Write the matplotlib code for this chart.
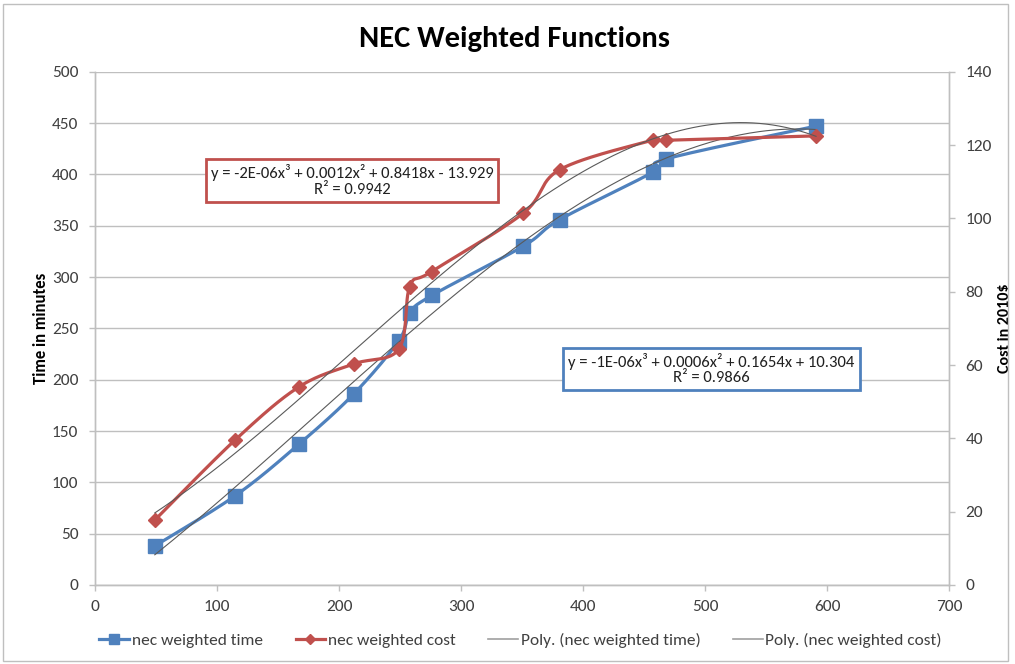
import numpy as np
import matplotlib
matplotlib.use('Agg')
import matplotlib.pyplot as plt
from matplotlib.patches import Rectangle

plt.rcParams['font.family'] = ['Carlito', 'Lato', 'DejaVu Sans']

# data
nec_x = [49, 115, 167, 212, 249, 258, 276, 351, 381, 457, 468, 591]
weighted_time = [38, 87, 137, 186, 238, 265, 282, 330, 356, 402, 415, 447]
weighted_cost = [17.7, 39.6, 54, 60.3, 64.3, 81.4, 85.5, 101.4, 113.3, 121.3, 121.3, 122.5]

time_eq = "y = -2E-06x\u00b3 + 0.0012x\u00b2 + 0.8418x - 13.929\nR\u00b2 = 0.9942"
cost_eq = "y = -1E-06x\u00b3 + 0.0006x\u00b2 + 0.1654x + 10.304\nR\u00b2 = 0.9866"

blue = '#4F81BD'
red = '#C0504D'
grid_col = '#BFBFBF'
trend_col = '#5A5A5A'


def smooth(xs, ys, n=30):
    # excel-like smoothed line (catmull-rom bezier between the points)
    p = np.column_stack([xs, ys]).astype(float)
    out = []
    for i in range(len(p) - 1):
        p0 = p[i - 1] if i > 0 else p[i]
        p1, p2 = p[i], p[i + 1]
        p3 = p[i + 2] if i + 2 < len(p) else p[i + 1]
        b1 = p1 + (p2 - p0) / 6
        b2 = p2 - (p3 - p1) / 6
        t = np.linspace(0, 1, n)[:, None]
        seg = (1 - t) ** 3 * p1 + 3 * (1 - t) ** 2 * t * b1 + 3 * (1 - t) * t ** 2 * b2 + t ** 3 * p2
        out.append(seg)
    out = np.vstack(out)
    return out[:, 0], out[:, 1]


fig = plt.figure(figsize=(10.15, 6.64), dpi=100)
ax = fig.add_axes([0.0936, 0.119, 0.8414, 0.773])
ax2 = ax.twinx()

# smoothed series
sx, sy = smooth(nec_x, weighted_time)
ax.plot(sx, sy, color=blue, lw=2.3, zorder=3)
ax.plot(nec_x, weighted_time, ls='none', marker='s', ms=9.5, color=blue, zorder=4)

cx, cy = smooth(nec_x, weighted_cost)
ax2.plot(cx, cy, color=red, lw=2.3, zorder=3)
ax2.plot(nec_x, weighted_cost, ls='none', marker='D', ms=7.5, color=red, zorder=4)

# polynomial trendlines (3rd order)
xx = np.linspace(min(nec_x), max(nec_x), 200)
ax.plot(xx, np.polyval(np.polyfit(nec_x, weighted_time, 3), xx), color=trend_col, lw=0.8, zorder=5)
ax2.plot(xx, np.polyval(np.polyfit(nec_x, weighted_cost, 3), xx), color=trend_col, lw=0.8, zorder=5)

ax.set_xlim(0, 700)
ax.set_ylim(0, 500)
ax2.set_ylim(0, 140)
ax.set_xticks(range(0, 701, 100))
ax.set_yticks(range(0, 501, 50))
ax2.set_yticks(range(0, 141, 20))

ax.yaxis.grid(True, color=grid_col, lw=1)
ax.set_axisbelow(True)
for a in (ax, ax2):
    for s in a.spines.values():
        s.set_color(grid_col)
        s.set_linewidth(1)
    a.spines['top'].set_visible(False)
    a.tick_params(colors=grid_col, labelcolor='#404040', labelsize=12.5, length=4, width=1)
ax.tick_params(axis='x', pad=7)
ax.tick_params(axis='y', pad=8)
ax2.tick_params(axis='y', pad=8)

ax.set_ylabel('Time in minutes', fontsize=12, fontweight='bold', labelpad=2)
ax2.set_ylabel('Cost in 2010$', fontsize=11.5, fontweight='bold', rotation=90, labelpad=4)

fig.text(0.507, 0.942, 'NEC Weighted Functions', ha='center', va='center',
         fontsize=22, fontweight='bold', color='black')

# trendline equation labels
ax.text(0.301, 0.788, time_eq, transform=ax.transAxes, ha='center', va='center',
        fontsize=12, color='#202020', linespacing=1.1, zorder=6,
        bbox=dict(boxstyle='square,pad=0.3', fc='white', ec=red, lw=2))
ax.text(0.722, 0.421, cost_eq, transform=ax.transAxes, ha='center', va='center',
        fontsize=12, color='#202020', linespacing=1.1, zorder=6,
        bbox=dict(boxstyle='square,pad=0.3', fc='white', ec=blue, lw=2))

# legend
handles = [
    plt.Line2D([], [], color=blue, lw=2.3, marker='s', ms=7),
    plt.Line2D([], [], color=red, lw=2.3, marker='D', ms=5.5),
    plt.Line2D([], [], color='#A0A0A0', lw=1.2),
    plt.Line2D([], [], color='#A0A0A0', lw=1.2),
]
labels = ['nec weighted time', 'nec weighted cost',
          'Poly. (nec weighted time)', 'Poly. (nec weighted cost)']
fig.legend(handles, labels, loc='center', bbox_to_anchor=(0.513, 0.035), ncol=4,
           frameon=False, fontsize=12.5, handlelength=1.7, handletextpad=0.15,
           columnspacing=1.9, labelcolor='#404040')

# chart area border
fig.add_artist(Rectangle((0.003, 0.004), 0.99, 0.99, transform=fig.transFigure,
                         fill=False, ec='#BFBFBF', lw=1))

fig.savefig('out.png', dpi=100)
